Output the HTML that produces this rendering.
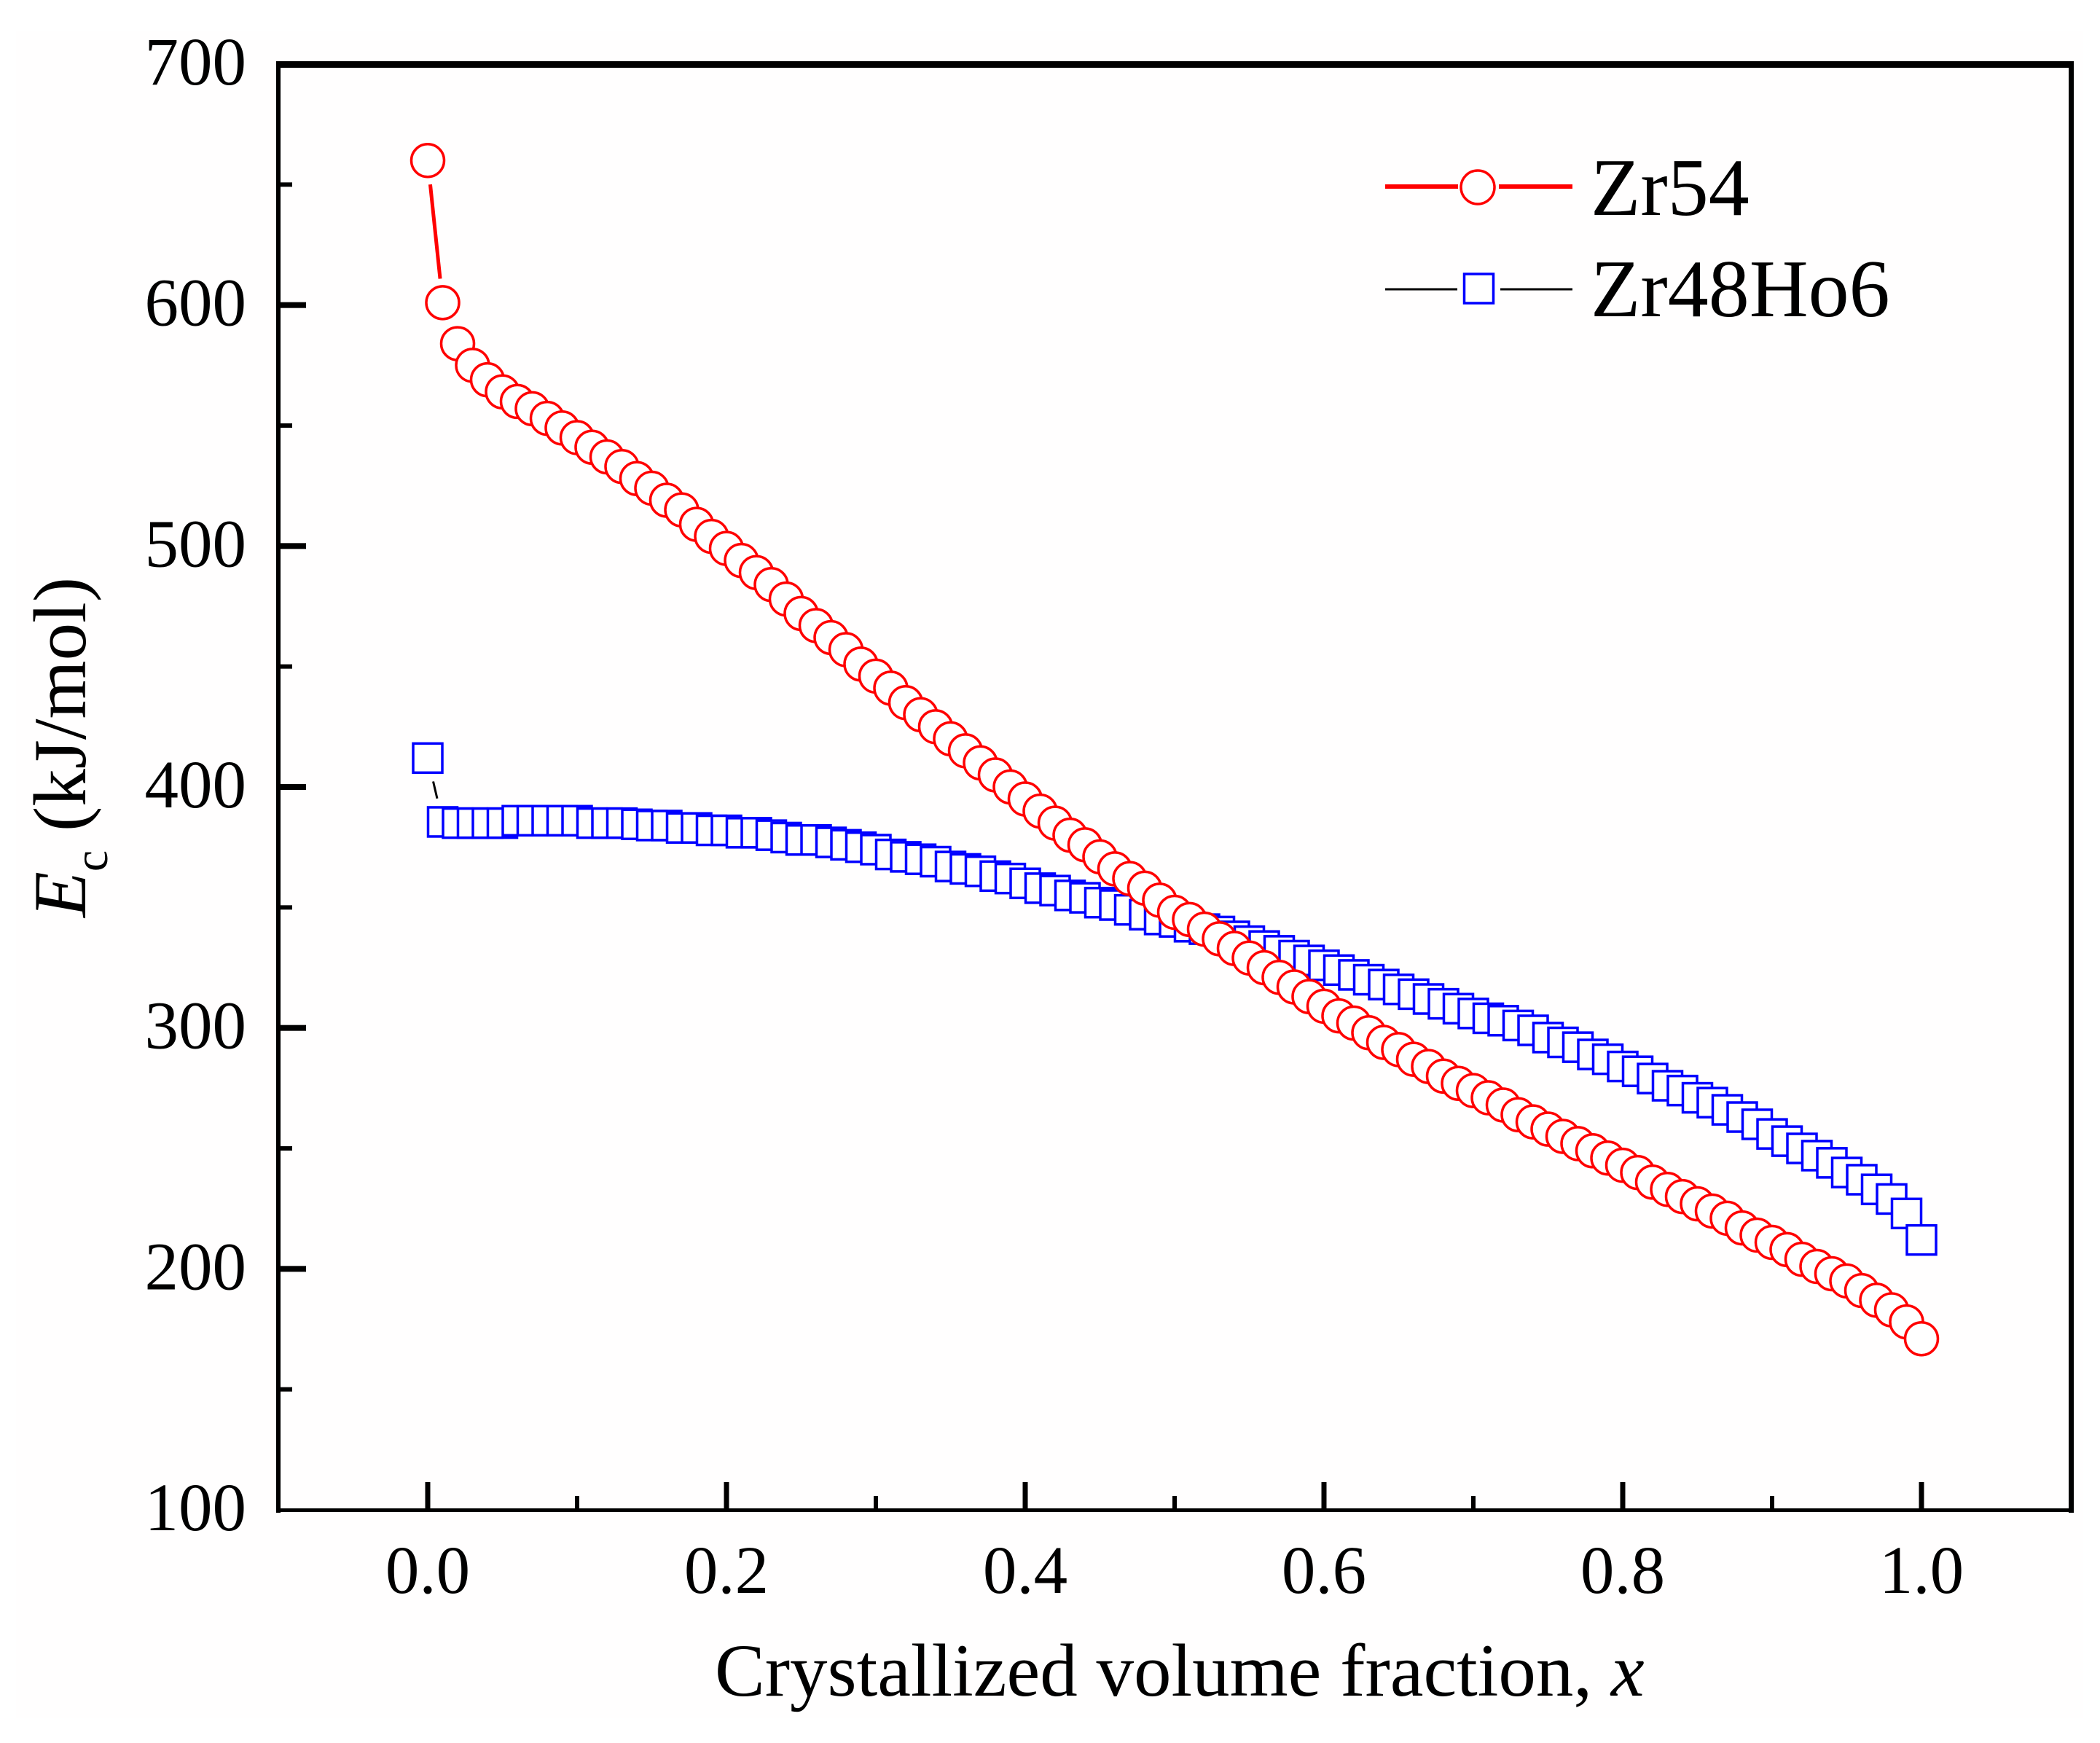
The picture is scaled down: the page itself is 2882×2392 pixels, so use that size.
<!DOCTYPE html>
<html lang="en">
<head>
<meta charset="utf-8">
<title>Crystallization activation energy chart</title>
<style>
html,body{margin:0;padding:0;background:#fff;}
svg{display:block;}
text{font-family:"Liberation Serif","Times New Roman",serif;fill:#000;}
</style>
</head>
<body>
<svg id="chart" xmlns="http://www.w3.org/2000/svg" width="2882" height="2392" viewBox="0 0 2882 2392">
  <rect x="0" y="0" width="2882" height="2392" fill="#ffffff"/>
  <rect x="22" y="42" width="2836" height="2316" fill="#fffefe"/>
  <g id="ticks"></g>
  <g id="tick-labels"></g>
  <g id="series"></g>
  <g fill="#000">
    <rect x="379" y="84" width="6" height="1992"/>
    <rect x="379" y="84" width="2467" height="9"/>
    <rect x="2839" y="84" width="7" height="1992"/>
    <rect x="379" y="2070" width="2467" height="5"/>
  </g>
  <text x="981" y="2327" font-size="103">Crystallized volume fraction, <tspan font-style="italic">x</tspan></text>
  <text transform="translate(117,1259) rotate(-90)" font-size="103"><tspan font-style="italic">E</tspan><tspan font-size="66" dy="30">c</tspan><tspan dy="-30"> (kJ/mol)</tspan></text>
  <g>
    <g>
      <line x1="1901" y1="256" x2="2001" y2="256" stroke="#ff0000" stroke-width="6"/>
      <line x1="2057" y1="256" x2="2158" y2="256" stroke="#ff0000" stroke-width="6"/>
      <circle cx="2028" cy="257" r="23" fill="#fff" stroke="#ff0000" stroke-width="3.5"/>
      <text x="2183" y="295" font-size="112">Zr54</text>
    </g>
    <g>
      <line x1="1901" y1="397" x2="2000" y2="397" stroke="#000" stroke-width="3"/>
      <line x1="2059" y1="397" x2="2158" y2="397" stroke="#000" stroke-width="3"/>
      <rect x="2009.5" y="376" width="40" height="40" fill="#fff" stroke="#0000ff" stroke-width="3.5"/>
      <text x="2183" y="434" font-size="112">Zr48Ho6</text>
    </g>
  </g>
</svg>
<script>
var xTickValues = [0, 0.2, 0.4, 0.6, 0.8, 1.0];
var xTickLabels = ["0.0", "0.2", "0.4", "0.6", "0.8", "1.0"];
var xMinorTicks = [0.1, 0.3, 0.5, 0.7, 0.9];
var yTickValues = [100, 200, 300, 400, 500, 600, 700];
var yTickLabels = ["100", "200", "300", "400", "500", "600", "700"];
var yMinorTicks = [150, 250, 350, 450, 550, 650];
var crystallizedFraction = [
0,0.01,0.02,0.03,0.04,0.05,0.06,0.07,0.08,0.09,
0.10,0.11,0.12,0.13,0.14,0.15,0.16,0.17,0.18,0.19,
0.20,0.21,0.22,0.23,0.24,0.25,0.26,0.27,0.28,0.29,
0.30,0.31,0.32,0.33,0.34,0.35,0.36,0.37,0.38,0.39,
0.40,0.41,0.42,0.43,0.44,0.45,0.46,0.47,0.48,0.49,
0.50,0.51,0.52,0.53,0.54,0.55,0.56,0.57,0.58,0.59,
0.60,0.61,0.62,0.63,0.64,0.65,0.66,0.67,0.68,0.69,
0.70,0.71,0.72,0.73,0.74,0.75,0.76,0.77,0.78,0.79,
0.80,0.81,0.82,0.83,0.84,0.85,0.86,0.87,0.88,0.89,
0.90,0.91,0.92,0.93,0.94,0.95,0.96,0.97,0.98,0.99,1.00];
var zr54Values = [
660,601,584,575,569,564,560,557,553,549,
545,541,537,533,528,524,519,515,509,504,
499,494,489,484,478,472,467,462,457,451,
446,441,435,430,425,420,415,410,405,400,
395,390,385,380,376,371,366,362,358,353,
348,345,341,337,333,329,325,321,317,313,
309,305,302,298,294,291,287,284,280,277,
274,271,268,264,261,258,255,252,249,246,
243,240,236,233,230,227,224,221,217,214,
211,208,204,201,198,195,191,187,183,178,171];
var zr48Ho6Values = [
412,385.5,385,385,385,385,386,386,386,386,
386,385,385,385,384.5,384,384,383,383,382,
382,381,381,380,379,378,378,377,376,375,
374,372,371,370,369,367,366,365,363,362,
360,358,357,355,354,352,351,349,347,345,
344,342,341,340,338,336,334,332,330,328,
326,324,322,320,318,316,314,312,310,308,
306,304,303,301,299,296,294,292,289,287,
284,282,279,276,274,271,269,266,263,260,
256,253,250,247,244,240,237,233,229,223,212];

var NS = "http://www.w3.org/2000/svg";
function xScale(v) { return 587 + (v - 0) * 2050; }
function yScale(v) { return 88 + (700 - v) * (1984 / 600); }
function make(tag, attrs, parent) {
  var el = document.createElementNS(NS, tag);
  for (var k in attrs) { el.setAttribute(k, attrs[k]); }
  parent.appendChild(el);
  return el;
}
var tickGroup = document.getElementById("ticks");
var labelGroup = document.getElementById("tick-labels");
var seriesGroup = document.getElementById("series");

xTickValues.forEach(function (v, i) {
  var t = make("rect", { x: xScale(v) - 3.5, y: 2034, width: 7, height: 38, fill: "#000" }, tickGroup);
  
  
  var l = make("text", { x: xScale(v), y: 2186, "font-size": 93, "text-anchor": "middle" }, labelGroup);
  l.textContent = xTickLabels[i];
  
  
});
xMinorTicks.forEach(function (v) {
  var t = make("rect", { x: xScale(v) - 3, y: 2053, width: 6, height: 19, fill: "#000" }, tickGroup);
  
  
});
yTickValues.forEach(function (v, i) {
  if (v > 100 && v < 700) {
    var t = make("rect", { x: 382, y: yScale(v) - 4, width: 38, height: 8, fill: "#000" }, tickGroup);
    
    
  }
  var l = make("text", { x: 338, y: yScale(v) + 28, "font-size": 93, "text-anchor": "end" }, labelGroup);
  l.textContent = yTickLabels[i];
  
  
});
yMinorTicks.forEach(function (v) {
  var t = make("rect", { x: 382, y: yScale(v) - 3, width: 19, height: 6, fill: "#000" }, tickGroup);
  
  
});

function drawConnectors(values, color, width, gap, name) {
  for (var i = 0; i < values.length - 1; i++) {
    var x1 = xScale(crystallizedFraction[i]), y1 = yScale(values[i]);
    var x2 = xScale(crystallizedFraction[i + 1]), y2 = yScale(values[i + 1]);
    var d = Math.sqrt((x2 - x1) * (x2 - x1) + (y2 - y1) * (y2 - y1));
    if (d <= 2 * gap) continue;
    var ux = (x2 - x1) / d, uy = (y2 - y1) / d;
    var seg = make("line", { x1: x1 + ux * gap, y1: y1 + uy * gap, x2: x2 - ux * gap, y2: y2 - uy * gap, stroke: color, "stroke-width": width }, seriesGroup);
    
    
  }
}

drawConnectors(zr48Ho6Values, "#000000", 3, 33, "zr48ho6-line-segment");
zr48Ho6Values.forEach(function (v, i) {
  var cx = xScale(crystallizedFraction[i]), cy = yScale(v);
  var m = make("rect", { x: cx - 20, y: cy - 20, width: 40, height: 40, fill: "#ffffff", stroke: "#0000ff", "stroke-width": 3.5 }, seriesGroup);
  
  
});
drawConnectors(zr54Values, "#ff0000", 5, 33, "zr54-line-segment");
zr54Values.forEach(function (v, i) {
  var cx = xScale(crystallizedFraction[i]), cy = yScale(v);
  var m = make("circle", { cx: cx, cy: cy, r: 22.5, fill: "#ffffff", stroke: "#ff0000", "stroke-width": 3.5 }, seriesGroup);
  
  
});
</script>
</body>
</html>
